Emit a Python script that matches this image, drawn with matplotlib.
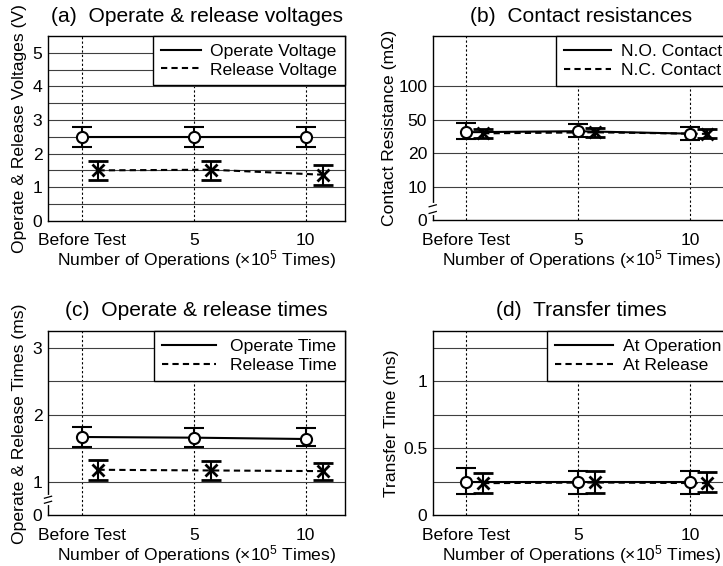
import numpy as np
import matplotlib
matplotlib.use("Agg")
import matplotlib.pyplot as plt
import matplotlib.transforms as mtrans

plt.rcParams['font.family'] = ['Liberation Sans', 'DejaVu Sans']
plt.rcParams['mathtext.fontset'] = 'custom'
plt.rcParams['mathtext.rm'] = 'Liberation Sans'
plt.rcParams['mathtext.default'] = 'regular'
plt.rcParams['font.size'] = 12.6

# data
x_labels = ["Before Test", "5", "10"]
xlab = r"Number of Operations ($\times$10$^5$ Times)"

# (a) voltages (V)
op_volt = [2.5, 2.5, 2.5]
op_volt_lo = [0.3, 0.3, 0.3]
op_volt_hi = [0.3, 0.28, 0.3]
rel_volt = [1.5, 1.52, 1.37]
rel_volt_lo = [0.29, 0.3, 0.32]
rel_volt_hi = [0.29, 0.27, 0.3]

# (b) contact resistances (mOhm)
no_res = [35.6, 36.6, 34.2]
no_res_lo = [6.2, 5.6, 5.5]
no_res_hi = [9.9, 8.3, 7.4]
nc_res = [34.5, 35.5, 34.0]
nc_res_lo = [3.8, 4.5, 3.5]
nc_res_hi = [4.5, 4.0, 4.7]

# (c) operate / release times (ms)
op_time = [1.67, 1.66, 1.64]
op_time_lo = [0.15, 0.14, 0.11]
op_time_hi = [0.15, 0.14, 0.17]
rel_time = [1.18, 1.17, 1.16]
rel_time_lo = [0.16, 0.14, 0.13]
rel_time_hi = [0.15, 0.14, 0.12]

# (d) transfer times (ms)
tr_op = [0.25, 0.25, 0.25]
tr_op_lo = [0.09, 0.09, 0.09]
tr_op_hi = [0.1, 0.08, 0.08]
tr_rel = [0.24, 0.245, 0.24]
tr_rel_lo = [0.07, 0.075, 0.065]
tr_rel_hi = [0.075, 0.085, 0.08]

xpos = np.arange(3)
shift = 0.15


# scale for (b): 0-10 linear, then 10,20,50,100 evenly spaced
res_steps = np.log10([10, 20, 50, 100, 200, 500])
res_pos = np.arange(1, 7)


def res_fwd(v):
    v = np.asarray(v, dtype=float)
    lg = np.log10(np.maximum(v, 1e-9))
    return np.where(v <= 10, v / 10.0, np.interp(lg, res_steps, res_pos))


def res_inv(p):
    p = np.asarray(p, dtype=float)
    return np.where(p <= 1, p * 10.0, 10 ** np.interp(p, res_pos, res_steps))


# scale for (c): 0-1 compressed to half
def t_fwd(v):
    v = np.asarray(v, dtype=float)
    return np.where(v <= 1, 0.5 * v, v - 0.5)


def t_inv(p):
    p = np.asarray(p, dtype=float)
    return np.where(p <= 0.5, 2 * p, p + 0.5)


fig = plt.figure(figsize=(7.23, 5.66), dpi=100)
ax_a = fig.add_axes([0.0664, 0.610, 0.4108, 0.3263])
ax_b = fig.add_axes([0.5985, 0.611, 0.4108, 0.3251])
ax_c = fig.add_axes([0.0664, 0.0896, 0.4108, 0.3251])
ax_d = fig.add_axes([0.5985, 0.0896, 0.4108, 0.3251])


def draw(ax, y1, lo1, hi1, y2, lo2, hi2, names, hl, htp):
    eb = dict(color='black', lw=1.5, capsize=7, capthick=1.5, ecolor='black')
    l1, = ax.plot(xpos, y1, '-', color='black', lw=1.5, zorder=4)
    ax.errorbar(xpos, y1, yerr=[lo1, hi1], fmt='o', mfc='white', mec='black',
                mew=1.5, ms=8, zorder=5, **eb)
    l2, = ax.plot(xpos + shift, y2, '--', color='black', lw=1.5, dashes=(3, 2), zorder=4)
    ax.errorbar(xpos + shift, y2, yerr=[lo2, hi2], fmt='x', mec='black',
                mew=2, ms=8, zorder=5, **eb)
    for xp in xpos:
        ax.axvline(xp, color='black', lw=0.8, ls=(0, (2, 2)), zorder=1)
    ax.set_xlim(-0.3, 2.35)
    ax.set_xticks(xpos)
    ax.set_xticklabels(x_labels)
    ax.set_xlabel(xlab, labelpad=0)
    ax.tick_params(axis='x', length=0, pad=9)
    ax.tick_params(axis='y', length=0, pad=4)
    for s in ax.spines.values():
        s.set_linewidth(1.0)
    leg = ax.legend([l1, l2], names, loc='upper right', borderaxespad=0,
                    fancybox=False, framealpha=1, edgecolor='black',
                    handlelength=hl, borderpad=0.45, labelspacing=0.18,
                    handletextpad=htp)
    leg.get_frame().set_linewidth(1.0)
    leg.set_zorder(10)


def hgrid(ax, vals):
    for v in vals:
        ax.axhline(v, color='0.25', lw=0.8, zorder=1)


def brk(ax, gap, m1, m2):
    tr = mtrans.blended_transform_factory(ax.transAxes, ax.transData)
    ax.plot([0, 0], gap, color='white', lw=3, transform=tr, clip_on=False, zorder=20)
    ax.plot([-0.012, 0.012], m1, color='black', lw=0.9, transform=tr, clip_on=False, zorder=21)
    ax.plot([-0.012, 0.012], m2, color='black', lw=0.9, transform=tr, clip_on=False, zorder=21)


# (a)
draw(ax_a, op_volt, op_volt_lo, op_volt_hi, rel_volt, rel_volt_lo, rel_volt_hi,
     ["Operate Voltage", "Release Voltage"], 2.3, 0.5)
ax_a.set_ylim(0, 5.5)
ax_a.set_yticks([0, 1, 2, 3, 4, 5])
hgrid(ax_a, np.arange(0.5, 5.5, 0.5))
ax_a.set_ylabel("Operate & Release Voltages (V)", labelpad=4)
ax_a.set_title("(a)  Operate & release voltages", pad=10)

# (b)
draw(ax_b, no_res, no_res_lo, no_res_hi, nc_res, nc_res_lo, nc_res_hi,
     ["N.O. Contact", "N.C. Contact"], 2.7, 0.55)
ax_b.set_yscale('function', functions=(res_fwd, res_inv))
ax_b.set_ylim(0, float(res_inv(5.5)))
ax_b.set_yticks([0, 10, 20, 50, 100])
ax_b.set_yticklabels(["0", "10", "20", "50", "100"])
ax_b.yaxis.set_minor_locator(matplotlib.ticker.NullLocator())
hgrid(ax_b, [10, 20, 50, 100])
ax_b.set_ylabel("Contact Resistance (m\u03a9)", labelpad=1)
ax_b.set_title("(b)  Contact resistances", pad=10)
brk(ax_b, [2.2, 4.4], [2.0, 2.6], [4.0, 4.6])

# (c)
draw(ax_c, op_time, op_time_lo, op_time_hi, rel_time, rel_time_lo, rel_time_hi,
     ["Operate Time", "Release Time"], 3.1, 0.8)
ax_c.set_yscale('function', functions=(t_fwd, t_inv))
ax_c.set_ylim(0, 3.25)
ax_c.set_yticks([0, 1, 2, 3])
ax_c.yaxis.set_minor_locator(matplotlib.ticker.NullLocator())
hgrid(ax_c, [1, 1.5, 2, 2.5, 3])
ax_c.set_ylabel("Operate & Release Times (ms)", labelpad=4)
ax_c.set_title("(c)  Operate & release times", pad=11)
brk(ax_c, [0.38, 0.55], [0.36, 0.42], [0.51, 0.57])

# (d)
draw(ax_d, tr_op, tr_op_lo, tr_op_hi, tr_rel, tr_rel_lo, tr_rel_hi,
     ["At Operation", "At Release"], 3.3, 0.6)
ax_d.set_ylim(0, 1.375)
ax_d.set_yticks([0, 0.5, 1])
ax_d.set_yticklabels(["0", "0.5", "1"])
hgrid(ax_d, [0.25, 0.5, 0.75, 1.0, 1.25])
ax_d.set_ylabel("Transfer Time (ms)", labelpad=3)
ax_d.set_title("(d)  Transfer times", pad=11)

fig.savefig("out.png", dpi=100)
